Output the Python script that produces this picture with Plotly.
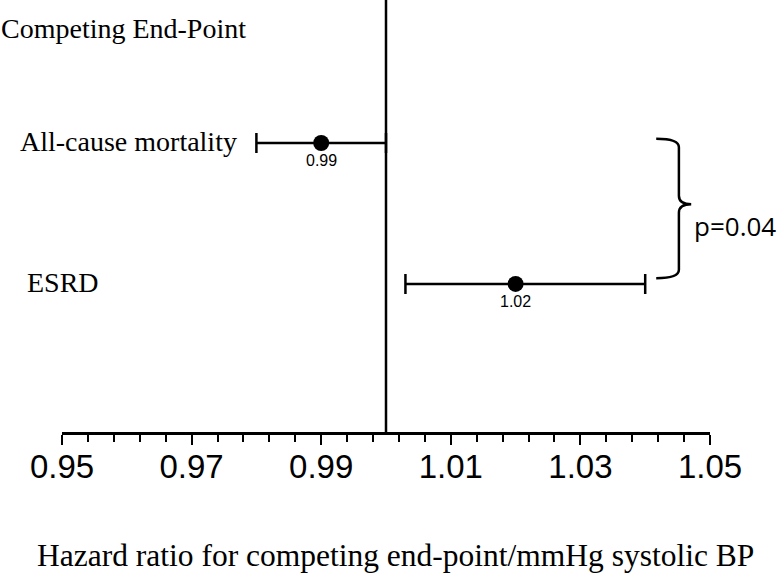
import plotly.graph_objects as go

categories = ["All-cause mortality", "ESRD"]
hr = [0.99, 1.02]
ci_low = [0.98, 1.003]
ci_high = [1.00, 1.04]
hr_labels = ["0.99", "1.02"]
row_pos = [2, 1]
tick_vals = [0.95, 0.97, 0.99, 1.01, 1.03, 1.05]
tick_text = ["0.95", "0.97", "0.99", "1.01", "1.03", "1.05"]
p_text = "p=0.04"
ref_line = 1.00

fig = go.Figure()
fig.add_trace(go.Scatter(
    x=hr, y=row_pos, mode="markers",
    marker=dict(color="black", size=16),
    error_x=dict(type="data", symmetric=False,
                 array=[h - hv for h, hv in zip(ci_high, hr)],
                 arrayminus=[hv - l for l, hv in zip(ci_low, hr)],
                 color="black", thickness=2.5, width=10),
    showlegend=False, hoverinfo="skip"))

# reference vertical line
fig.add_shape(type="line", x0=ref_line, x1=ref_line, y0=0, y1=1, yref="paper",
              xref="x", line=dict(color="black", width=2.5))

serif = "Liberation Serif, Times New Roman, serif"
sans = "Liberation Sans, Arial, sans-serif"

# category labels
label_shift = {"All-cause mortality": -44, "ESRD": -37}
for cat, y in zip(categories, row_pos):
    fig.add_annotation(x=0.0, xref="paper", xanchor="left", xshift=label_shift[cat],
                       y=y, yref="y", yshift=1, text=cat, showarrow=False,
                       font=dict(family=serif, size=28, color="black"))

# value labels
for v, lab, y in zip(hr, hr_labels, row_pos):
    fig.add_annotation(x=v, y=y, text=lab, showarrow=False, yshift=-18,
                       font=dict(family=sans, size=16, color="black"))

fig.add_annotation(x=0, xref="paper", xanchor="left", xshift=-63, y=1, yref="paper", yanchor="middle",
                   yshift=-28, text="Competing End-Point", showarrow=False,
                   font=dict(family=serif, size=28, color="black"))

# x-axis title
fig.add_annotation(x=0.5, xref="paper", xanchor="center", xshift=9, y=0, yref="paper", yanchor="middle",
                   yshift=-123, text="Hazard ratio for competing end-point/mmHg systolic BP",
                   showarrow=False, font=dict(family=serif, size=31.5, color="black"))

# bracket
xb0, xb1, xb2 = 1.0417, 1.0452, 1.0471
yt, yb = row_pos[0] + 0.03, row_pos[1] + 0.04
ym = (yt + yb) / 2 + 0.03
path = (f"M {xb0},{yt} Q {xb1},{yt} {xb1},{yt-0.06} L {xb1},{ym+0.06} Q {xb1},{ym} {xb2},{ym} "
        f"Q {xb1},{ym} {xb1},{ym-0.06} L {xb1},{yb+0.06} Q {xb1},{yb} {xb0},{yb}")
fig.add_shape(type="path", path=path, xref="x", yref="y", line=dict(color="black", width=2.5))
fig.add_annotation(x=xb2, y=ym, text=p_text, showarrow=False, xanchor="left", xshift=1, yshift=-22,
                   font=dict(family="Open Sans, Liberation Sans, sans-serif", size=26, color="black"))

fig.update_xaxes(range=[0.95, 1.05], tickvals=tick_vals, ticktext=tick_text,
                 ticks="outside", ticklen=10, tickwidth=2, tickcolor="black",
                 showline=True, linecolor="black", linewidth=2.5,
                 showgrid=False, zeroline=False, automargin=False,
                 ticklabelstandoff=-6,
                 minor=dict(tickvals=[0.95 + 0.004 * i for i in range(26)], ticks="outside",
                            ticklen=7, tickwidth=2, tickcolor="black", showgrid=False),
                 tickfont=dict(family=sans, size=33, color="black"))
fig.update_yaxes(range=[-0.05, 3.014], visible=False, showgrid=False, zeroline=False, automargin=False)

fig.update_layout(width=783, height=577, margin=dict(l=62, r=73, t=0, b=145, autoexpand=False),
                  plot_bgcolor="white", paper_bgcolor="white")

fig.write_html("out.html", config={"displayModeBar": False},
               post_script="document.body.style.margin='0';")
